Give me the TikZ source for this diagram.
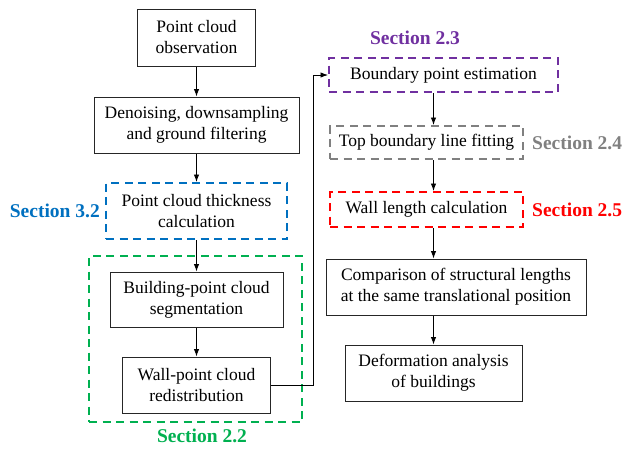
\documentclass[tikz,border=0pt]{standalone}
\usepackage{fontspec}
\setmainfont{Liberation Serif}
\usetikzlibrary{arrows.meta}
\definecolor{secblue}{HTML}{0070C0}
\definecolor{secgreen}{HTML}{00B050}
\definecolor{secpurple}{HTML}{7030A0}
\definecolor{secgray}{HTML}{808080}
\definecolor{secred}{HTML}{FF0000}
\begin{document}
\begin{tikzpicture}[x=1pt,y=-1pt,
  every node/.style={font=\fontsize{17.5}{21}\selectfont, align=center, inner sep=0pt},
  solidbox/.style={draw=black!85, line width=1pt},
  dashbox/.style={line width=2pt, dash pattern=on 8pt off 5.5pt},
  seclabel/.style={font=\fontsize{19.5}{22}\selectfont\bfseries},
  arr/.style={draw=black, line width=0.9pt, -{Latex[length=7.5pt,width=5.5pt]}}]
\useasboundingbox (0,0) rectangle (624,448);
% left column
\node[solidbox, minimum width=118pt, minimum height=57pt] (b1) at (196.5,37.5) {Point cloud\\observation};
\node[solidbox, minimum width=205pt, minimum height=56pt] (b2) at (196.5,125) {Denoising, downsampling\\and ground filtering};
\node[draw=secblue, dashbox, minimum width=181pt, minimum height=56pt] (b3) at (196.5,211) {Point cloud thickness\\calculation};
\node[draw=secgreen, dashbox, minimum width=213pt, minimum height=166pt] (g) at (195.5,339) {};
\node[solidbox, minimum width=173pt, minimum height=55pt] (b4) at (196.5,299.5) {Building-point cloud\\segmentation};
\node[solidbox, minimum width=148pt, minimum height=56pt] (b5) at (196.5,385) {Wall-point cloud\\redistribution};
% right column
\node[draw=secpurple, dashbox, minimum width=229pt, minimum height=34pt] (b6) at (443.5,75) {Boundary point estimation};
\node[draw=secgray, dashbox, minimum width=193pt, minimum height=33pt] (b7) at (426.5,142.5) {Top boundary line fitting};
\node[draw=secred, dashbox, minimum width=193pt, minimum height=35pt] (b8) at (426.5,209.5) {Wall length calculation};
\node[solidbox, minimum width=260pt, minimum height=56pt] (b9) at (456,287) {Comparison of structural lengths\\at the same translational position};
\node[solidbox, minimum width=177pt, minimum height=56pt] (b10) at (433.5,373) {Deformation analysis\\of buildings};
% labels
\node[seclabel, text=secblue, anchor=east] (l32) at (100,211) {Section 3.2};
\node[seclabel, text=secgreen] (l22) at (202,436) {Section 2.2};
\node[seclabel, text=secpurple] (l23) at (415,38) {Section 2.3};
\node[seclabel, text=secgray, anchor=west] (l24) at (532,142.5) {Section 2.4};
\node[seclabel, text=secred, anchor=west] (l25) at (532,210) {Section 2.5};
% connectors
\coordinate (c1) at (313,385);
\coordinate (c2) at (313,75);
\draw[arr] (b1.south) -- (b2.north);
\draw[arr] (b2.south) -- (b3.north);
\draw[arr] (b3.south) -- (b4.north);
\draw[arr] (b4.south) -- (b5.north);
\draw[arr] (b5.east) -- (c1) -- (c2) -- (b6.west);
\draw[arr] (b6.south -| b10.center) -- (b7.north -| b10.center);
\draw[arr] (b7.south -| b10.center) -- (b8.north -| b10.center);
\draw[arr] (b8.south -| b10.center) -- (b9.north -| b10.center);
\draw[arr] (b9.south -| b10.center) -- (b10.north);
\end{tikzpicture}
\end{document}
